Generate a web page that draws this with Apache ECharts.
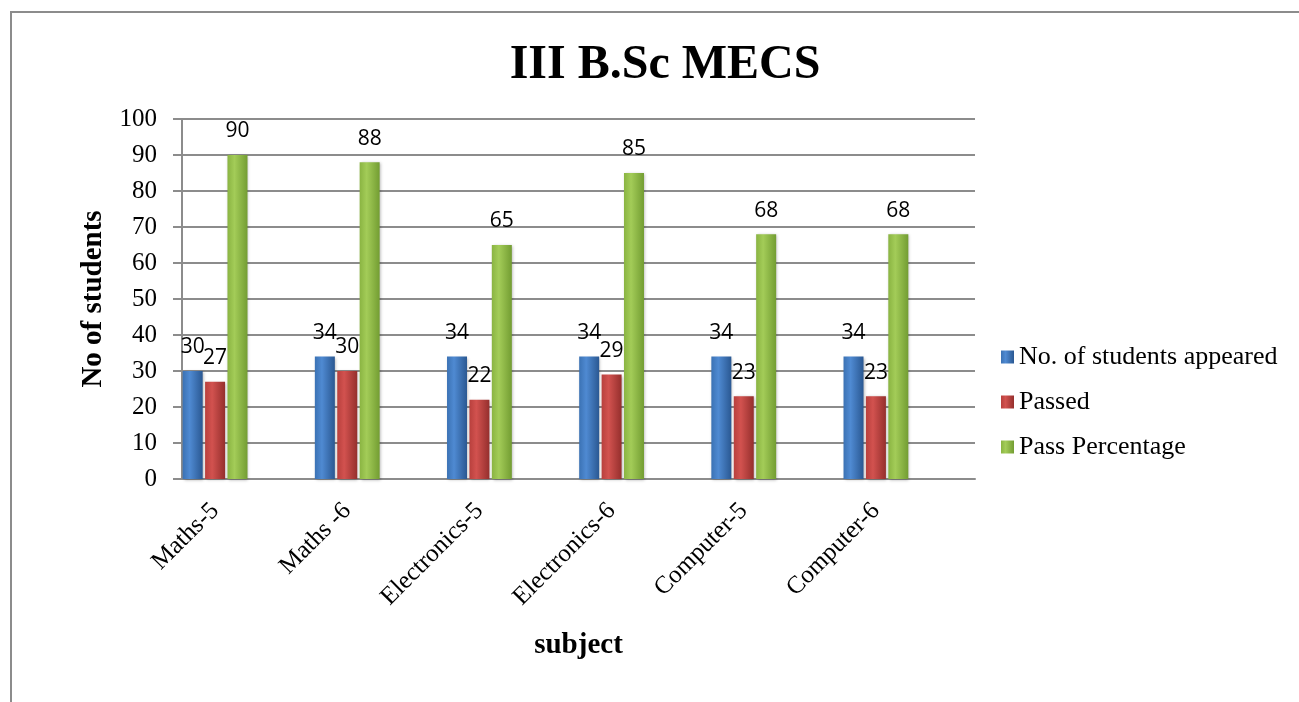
<!DOCTYPE html>
<html>
<head>
<meta charset="utf-8">
<script src="https://cdn.jsdelivr.net/npm/echarts@6/dist/echarts.min.js"></script>
<style>
html,body{margin:0;padding:0;background:#fff;overflow:hidden;}
#frame{position:absolute;left:10px;top:11px;width:2000px;height:2000px;border-left:2px solid #8c8c8c;border-top:2px solid #8c8c8c;}
#chart{position:absolute;left:0;top:0;width:1299px;height:702px;}
</style>
</head>
<body>
<div id="frame"></div>
<div id="chart"></div>
<script>
const categories = ["Maths-5", "Maths -6", "Electronics-5", "Electronics-6", "Computer-5", "Computer-6"];
const appeared = [30, 34, 34, 34, 34, 34];
const passed = [27, 30, 22, 29, 23, 23];
const passPercentage = [90, 88, 65, 85, 68, 68];
const yTicks = [0, 100, 10];

function grad(c0, c1, c2) {
  return new echarts.graphic.LinearGradient(0, 0, 1, 0, [
    {offset: 0, color: c0}, {offset: 0.35, color: c1}, {offset: 1, color: c2}
  ]);
}
const serif = '"Liberation Serif", "Times New Roman", serif';
const labelStyle = {show: true, position: 'top', distance: 13, fontFamily: '"Open Sans", sans-serif', fontSize: 21, color: '#000'};

const chart = echarts.init(document.getElementById('chart'), null, {renderer: 'canvas'});
chart.setOption({
  animation: false,
  backgroundColor: 'transparent',
  title: {
    text: 'III B.Sc MECS', left: 660, top: 37, textAlign: 'center',
    textStyle: {fontFamily: serif, fontWeight: 'bold', fontSize: 48, color: '#000'}
  },
  legend: {
    orient: 'vertical', left: 996, top: 339, itemGap: 19,
    itemWidth: 13, itemHeight: 13, icon: 'rect',
    data: ['No. of students appeared', 'Passed', 'Pass Percentage'],
    textStyle: {fontFamily: serif, fontSize: 26, color: '#000'}
  },
  grid: [
    {left: 182, right: 324, top: 119, bottom: 223},
    {left: 149, right: 357, top: 119, bottom: 223}
  ],
  xAxis: [
    {
      type: 'category', gridIndex: 0, data: categories,
      axisLine: {show: true, lineStyle: {color: '#8c8c8c', width: 2}},
      axisTick: {show: false}, axisLabel: {show: false},
      name: 'subject', nameLocation: 'middle', nameGap: 152,
      nameTextStyle: {fontFamily: serif, fontWeight: 'bold', fontSize: 29, color: '#000'}
    },
    {
      type: 'category', gridIndex: 1, data: categories,
      axisLine: {show: false}, axisTick: {show: false},
      axisLabel: {rotate: 45, margin: 28, fontFamily: serif, fontSize: 25, color: '#000'}
    }
  ],
  yAxis: [
    {
      type: 'value', gridIndex: 0, min: yTicks[0], max: yTicks[1], interval: yTicks[2],
      axisLine: {show: true, lineStyle: {color: '#8c8c8c', width: 2}},
      axisTick: {show: true, inside: false, length: 9, lineStyle: {color: '#8c8c8c', width: 2}},
      splitLine: {show: true, lineStyle: {color: '#8c8c8c', width: 2}},
      axisLabel: {margin: 25, fontFamily: serif, fontSize: 25, color: '#000'},
      name: 'No of students', nameLocation: 'middle', nameRotate: 90, nameGap: 74,
      nameTextStyle: {fontFamily: serif, fontWeight: 'bold', fontSize: 29, color: '#000'}
    },
    {
      type: 'value', gridIndex: 1, min: yTicks[0], max: yTicks[1], interval: yTicks[2], show: false
    }
  ],
  series: [
    {
      name: 'No. of students appeared', type: 'bar', xAxisIndex: 1, yAxisIndex: 1,
      data: appeared, barWidth: 20, barGap: '12%',
      itemStyle: {color: grad('#3b72b4', '#4f8ad2', '#2a5892'), shadowColor: 'rgba(0,0,0,0.3)', shadowBlur: 3, shadowOffsetX: 1, shadowOffsetY: 1},
      label: labelStyle
    },
    {
      name: 'Passed', type: 'bar', xAxisIndex: 1, yAxisIndex: 1,
      data: passed, barWidth: 20, barGap: '12%',
      itemStyle: {color: grad('#b8403d', '#d2524f', '#952f2d'), shadowColor: 'rgba(0,0,0,0.3)', shadowBlur: 3, shadowOffsetX: 1, shadowOffsetY: 1},
      label: labelStyle
    },
    {
      name: 'Pass Percentage', type: 'bar', xAxisIndex: 1, yAxisIndex: 1,
      data: passPercentage, barWidth: 20, barGap: '12%',
      itemStyle: {color: grad('#8ab442', '#a3cc58', '#739d32'), shadowColor: 'rgba(0,0,0,0.3)', shadowBlur: 3, shadowOffsetX: 1, shadowOffsetY: 1},
      label: labelStyle
    }
  ]
});
</script>
</body>
</html>
